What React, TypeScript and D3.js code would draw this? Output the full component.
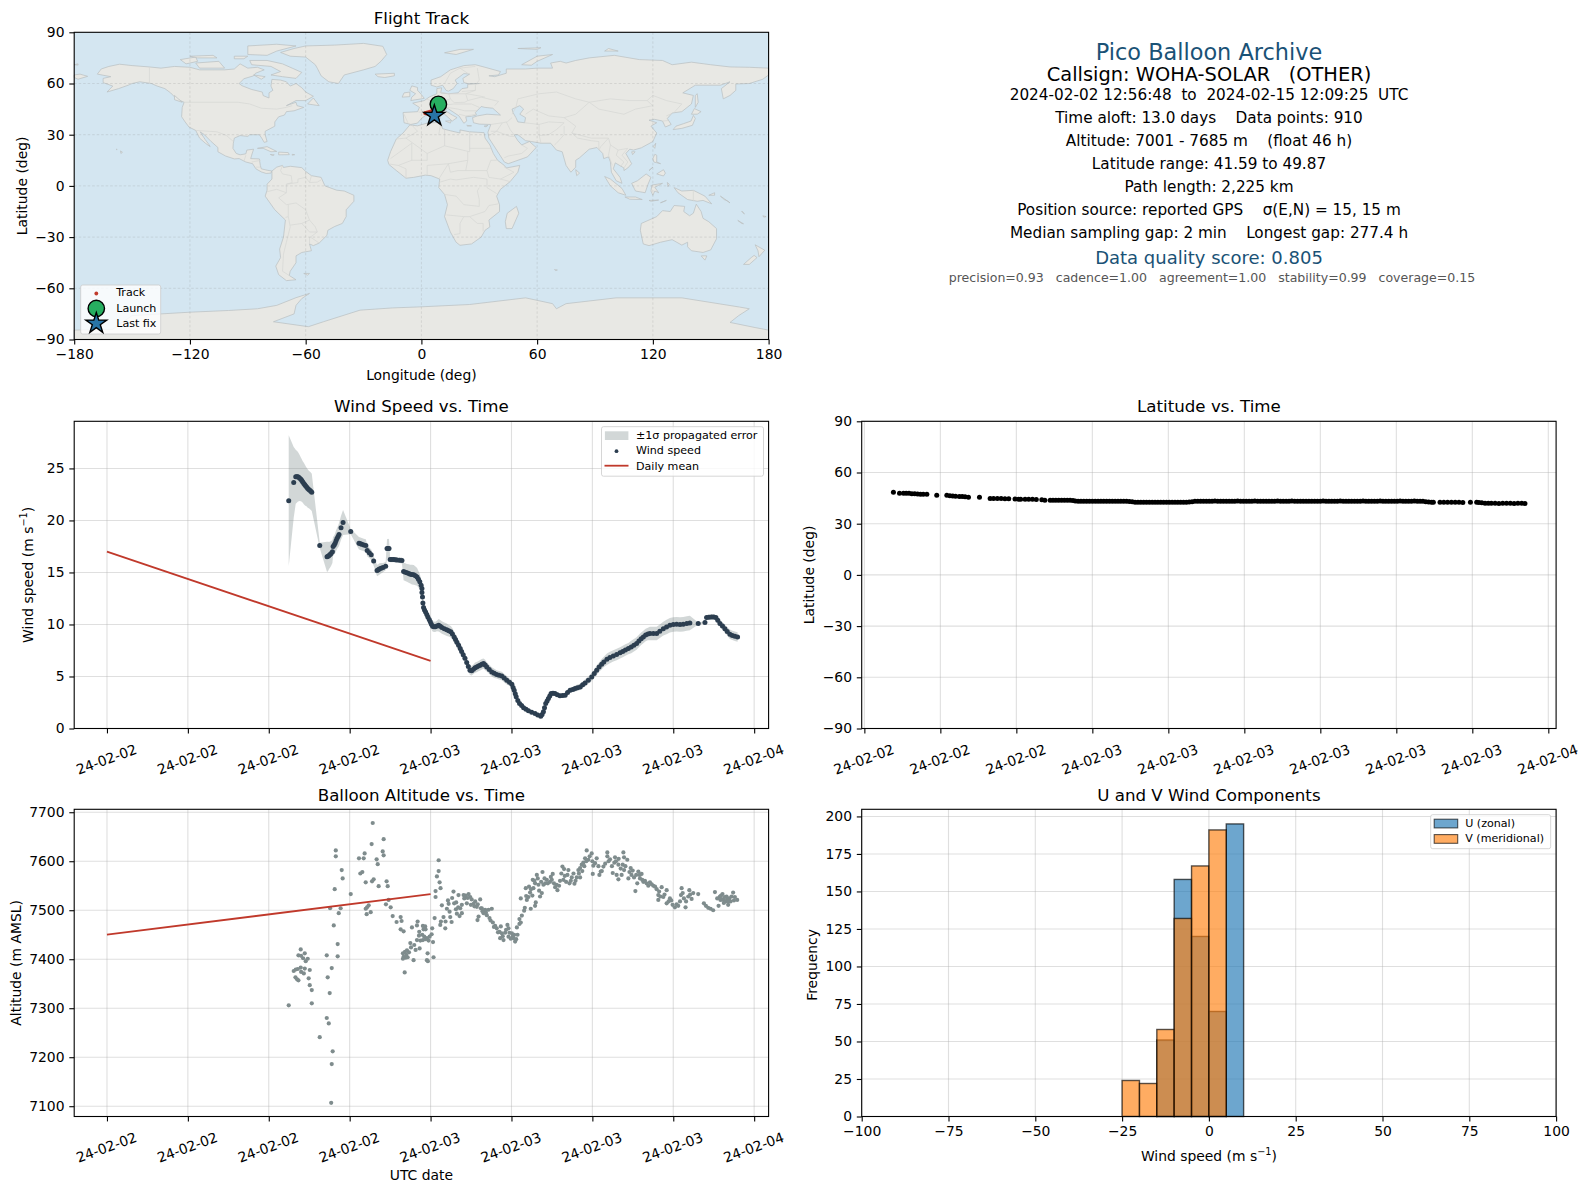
import React, { useEffect, useRef } from 'react';
import * as d3 from 'd3';

const FONT = '"DejaVu Sans", sans-serif';
const START = Date.UTC(2024, 1, 2);
const toDate = (h: number) => new Date(START + h * 3600e3);

// hours after 2024-02-02 00:00 UTC
const windHours = [
  13.48, 13.85, 14.0, 14.08, 14.15, 14.22, 14.3, 14.38, 14.45, 14.52,
  14.6, 14.67, 14.74, 14.82, 14.89, 14.97, 15.04, 15.12, 15.19, 15.78,
  16.32, 16.4, 16.47, 16.55, 16.62, 16.72, 16.77, 16.85, 16.92, 16.99,
  17.06, 17.14, 17.21, 17.36, 17.51, 18.08, 18.69, 18.8, 18.9, 19.05,
  19.2, 19.3, 19.45, 19.6, 19.78, 20.03, 20.12, 20.2, 20.33, 20.47,
  20.67, 20.77, 20.85, 20.92, 21.0, 21.13, 21.26, 21.38, 21.5, 21.7,
  21.88, 22.0, 22.12, 22.25, 22.38, 22.5, 22.62, 22.75, 22.88, 23.0,
  23.1, 23.2, 23.3, 23.36, 23.36, 23.4, 23.43, 23.48, 23.55, 23.63,
  23.72, 23.8, 23.9, 23.98, 24.06, 24.15, 24.25, 24.35, 24.47, 24.6,
  24.72, 24.84, 25.02, 25.2, 25.35, 25.5, 25.62, 25.75, 25.85, 25.95,
  26.08, 26.2, 26.3, 26.42, 26.55, 26.68, 26.8, 26.92, 27.05, 27.18,
  27.3, 27.42, 27.55, 27.68, 27.8, 27.93, 28.05, 28.17, 28.35, 28.54,
  28.72, 28.9, 29.08, 29.28, 29.46, 29.65, 29.85, 30.03, 30.12, 30.2,
  30.28, 30.35, 30.47, 30.6, 30.75, 30.9, 31.08, 31.26, 31.5, 31.75,
  31.95, 32.17, 32.27, 32.37, 32.45, 32.54, 32.64, 32.74, 32.84, 32.94,
  33.08, 33.23, 33.4, 33.6, 33.8, 33.98, 34.16, 34.35, 34.55, 34.72,
  34.9, 35.1, 35.28, 35.46, 35.7, 35.95, 36.14, 36.32, 36.5, 36.69,
  36.85, 37.08, 37.3, 37.55, 37.8, 38.05, 38.25, 38.45, 38.67, 38.88,
  39.08, 39.28, 39.45, 39.62, 39.78, 39.95, 40.12, 40.27, 40.52, 40.77,
  41.0, 41.26, 41.5, 41.75, 42.0, 42.25, 42.5, 42.74, 43.0, 43.23,
  43.85, 44.35, 44.47, 44.65, 44.84, 45.0, 45.16, 45.3, 45.46, 45.65,
  45.83, 46.0, 46.2, 46.38, 46.57, 46.77,
];
const windSpeed = [
  21.9, 23.65, 24.2, 24.2, 24.2, 24.15, 24.06, 23.95, 23.84, 23.7,
  23.55, 23.42, 23.3, 23.18, 23.07, 22.98, 22.9, 22.8, 22.7, 17.6,
  16.5, 16.55, 16.63, 16.72, 16.82, 17.0, 17.5, 17.65, 17.8, 18.05,
  18.26, 18.45, 18.65, 19.3, 19.8, 18.93, 17.8, 17.75, 17.7, 17.65,
  17.6, 17.1, 16.9, 16.7, 16.1, 15.18, 15.25, 15.34, 15.4, 15.47,
  15.6, 17.3, 17.3, 17.3, 16.24, 16.24, 16.24, 16.22, 16.2, 16.17,
  16.15, 15.09, 15.03, 14.96, 14.9, 14.83, 14.8, 14.77, 14.68, 14.57,
  14.35, 14.1, 13.77, 13.45, 13.07, 12.65, 12.07, 11.63, 11.4, 11.2,
  10.97, 10.73, 10.48, 10.25, 10.03, 9.83, 9.78, 9.77, 9.86, 9.93,
  9.82, 9.7, 9.6, 9.5, 9.4, 9.3, 9.08, 8.8, 8.55, 8.3,
  8.0, 7.7, 7.4, 7.1, 6.75, 6.35, 5.95, 5.6, 5.55, 5.7,
  5.85, 5.9, 6.0, 6.08, 6.18, 6.24, 6.1, 5.92, 5.68, 5.44,
  5.3, 5.2, 5.12, 5.05, 4.85, 4.64, 4.45, 4.25, 3.95, 3.68,
  3.35, 3.04, 2.7, 2.4, 2.2, 2.0, 1.85, 1.7, 1.56, 1.43,
  1.3, 1.18, 1.35, 1.6, 2.0, 2.4, 2.65, 2.88, 3.12, 3.36,
  3.38, 3.36, 3.25, 3.16, 3.18, 3.2, 3.45, 3.68, 3.76, 3.84,
  3.92, 4.0, 4.2, 4.38, 4.65, 4.96, 5.28, 5.6, 5.9, 6.18,
  6.4, 6.65, 6.82, 6.98, 7.12, 7.27, 7.4, 7.55, 7.68, 7.84,
  8.0, 8.16, 8.4, 8.62, 8.8, 8.98, 9.08, 9.13, 9.13, 9.13,
  9.35, 9.6, 9.76, 9.93, 10.0, 10.02, 10.0, 10.02, 10.1, 10.15,
  10.09, 10.2, 10.66, 10.7, 10.73, 10.72, 10.66, 10.4, 10.09, 9.85,
  9.6, 9.33, 9.06, 8.95, 8.87, 8.8,
];
const windSigma = [
  6.3, 3.4, 2.6, 2.5, 2.4, 2.3, 2.2, 2.1, 2.05, 2.0,
  2.0, 1.95, 1.9, 1.85, 1.85, 1.8, 1.8, 1.8, 1.8, 0.25,
  1.45, 1.4, 1.3, 1.25, 1.2, 1.1, 0.9, 0.9, 0.95, 1.0,
  1.0, 1.05, 1.1, 1.15, 1.2, 0.25, 0.6, 0.6, 0.6, 0.6,
  0.6, 0.55, 0.5, 0.5, 0.45, 0.55, 0.55, 0.55, 0.5, 0.45,
  0.4, 0.9, 0.95, 0.9, 0.25, 0.25, 0.25, 0.25, 0.25, 0.25,
  0.3, 0.85, 0.85, 0.85, 0.9, 0.9, 0.95, 0.95, 0.9, 0.85,
  0.8, 0.75, 0.6, 0.6, 0.55, 0.55, 0.5, 0.5, 0.5, 0.5,
  0.5, 0.5, 0.5, 0.5, 0.5, 0.5, 0.5, 0.5, 0.5, 0.6,
  0.6, 0.6, 0.6, 0.6, 0.55, 0.55, 0.55, 0.5, 0.5, 0.5,
  0.5, 0.5, 0.45, 0.45, 0.45, 0.45, 0.45, 0.45, 0.45, 0.45,
  0.5, 0.5, 0.5, 0.5, 0.5, 0.5, 0.5, 0.45, 0.45, 0.45,
  0.45, 0.4, 0.4, 0.4, 0.4, 0.4, 0.35, 0.35, 0.3, 0.3,
  0.25, 0.2, 0.2, 0.2, 0.2, 0.15, 0.15, 0.15, 0.15, 0.15,
  0.15, 0.15, 0.15, 0.15, 0.15, 0.15, 0.2, 0.2, 0.2, 0.2,
  0.2, 0.2, 0.2, 0.2, 0.2, 0.2, 0.25, 0.25, 0.25, 0.3,
  0.3, 0.3, 0.3, 0.35, 0.35, 0.4, 0.4, 0.45, 0.45, 0.5,
  0.5, 0.55, 0.55, 0.55, 0.55, 0.55, 0.55, 0.55, 0.55, 0.6,
  0.6, 0.6, 0.6, 0.6, 0.6, 0.6, 0.6, 0.65, 0.65, 0.65,
  0.65, 0.65, 0.7, 0.7, 0.7, 0.7, 0.7, 0.7, 0.7, 0.7,
  0.1, 0.1, 0.25, 0.25, 0.25, 0.25, 0.25, 0.3, 0.35, 0.35,
  0.4, 0.4, 0.45, 0.45, 0.45, 0.45,
];

const meanHours = [0, 24];
const meanSpeed = [17.0, 6.5];
const meanAlt = [7450, 7533];

const altHours = [
  13.48, 13.85, 14.0, 14.15, 14.37, 14.67, 15.04, 13.98, 14.1, 14.2,
  14.37, 14.2, 14.4, 14.67, 14.55, 14.89, 14.74, 14.4, 14.6, 14.96,
  15.04, 15.19, 15.19, 15.78, 16.3, 16.45, 16.74, 16.67, 16.52, 16.37,
  16.67, 16.3, 17.11, 17.11, 16.82, 17.19, 17.33, 16.55, 16.89, 17.48,
  17.41, 16.97, 16.97, 18.08, 18.69, 19.04, 19.11, 19.63, 19.71, 20.52,
  20.45, 20.52, 20.0, 20.08, 18.94, 18.79, 19.19, 19.66, 19.78, 20.15,
  20.74, 20.82, 19.19, 19.29, 19.41, 19.26, 19.56, 20.89, 20.69, 21.04,
  21.19, 21.48, 21.78, 21.85, 21.78, 22.0, 22.08, 22.74, 21.95, 22.1,
  22.25, 22.4, 22.0, 22.15, 22.3, 21.95, 22.2, 22.5, 22.55, 22.79,
  22.89, 23.19, 23.78, 23.73, 23.8, 24.22, 24.18, 23.85, 22.62, 22.99,
  23.04, 23.16, 23.43, 23.6, 23.48, 23.63, 23.14, 23.38, 23.53, 23.73,
  23.93, 24.08, 22.99, 23.24, 23.43, 23.63, 24.12, 24.3, 24.37, 24.37,
  24.74, 24.67, 24.47, 24.6, 24.6, 24.84, 25.7, 26.07, 24.77, 24.72,
  25.09, 25.11, 24.96, 25.46, 25.56, 25.41, 25.21, 25.34, 25.29, 25.75,
  25.88, 25.95, 26.15, 26.32, 26.2, 26.32, 26.5, 26.45, 26.82, 26.94,
  26.69, 26.99, 27.31, 27.68, 27.19, 27.43, 27.48, 27.56, 27.73, 27.8,
  28.05, 28.3, 28.54, 27.93, 28.17, 28.37, 28.62, 28.79, 28.91, 29.21,
  29.7, 29.78, 29.11, 29.28, 29.53, 29.16, 29.41, 29.78, 30.03, 30.2,
  30.45, 30.27, 30.15, 29.85, 30.4, 30.59, 30.69, 30.59, 30.77, 30.94,
  30.99, 31.43, 31.75, 31.8, 30.69, 31.09, 31.26, 31.06, 31.14, 31.38,
  31.63, 32.12, 32.25, 31.58, 31.88, 32.3, 31.75, 32.0, 32.37, 32.62,
  32.5, 32.86, 33.06, 32.99, 33.24, 33.41, 33.53, 33.6, 33.85, 33.78,
  34.22, 33.9, 34.05, 34.3, 34.67, 34.47, 34.84, 35.09, 34.96, 35.21,
  35.09, 35.58, 35.95, 35.46, 35.7, 35.33, 36.07, 36.32, 36.03, 36.52,
  36.62, 36.82, 37.11, 37.11, 37.31, 37.68, 38.3, 38.35, 38.59, 37.63,
  37.93, 38.25, 37.51, 37.8, 37.93, 38.17, 38.35, 38.67, 38.84, 39.09,
  38.99, 39.41, 39.65, 39.53, 39.33, 39.19, 39.78, 40.02, 40.27, 40.52,
  40.77, 41.14, 41.51, 40.89, 41.26, 40.89, 41.51, 41.75, 41.95, 42.12,
  42.37, 42.62, 42.57, 42.79, 42.5, 42.91, 43.19, 43.11, 43.36, 43.48,
  43.85, 44.27, 44.42, 44.59, 44.77, 44.96, 45.36, 45.09, 45.26, 45.46,
  45.65, 45.7, 45.9, 46.07, 46.15, 46.32, 46.44, 46.57, 46.74, 45.83,
  45.5, 46.0, 25.6, 25.9, 26.05, 26.6, 26.75, 27.05, 27.25, 27.5,
  27.85, 28.1, 28.45, 28.7, 29.0, 29.35, 29.6, 29.95, 30.1, 30.35,
  31.3, 31.45, 31.55, 31.7, 31.95, 32.05, 32.2, 32.45, 32.7, 32.92,
  33.15, 33.35, 33.7, 33.95, 34.15, 34.4, 34.6, 34.75, 35.0, 35.25,
  35.4, 35.55, 35.8, 36.0, 36.2, 36.45, 36.7, 36.95, 37.2, 37.45,
  37.75, 37.95, 38.1, 38.45, 38.75, 38.9, 39.25, 39.5, 39.7, 39.9,
  40.15, 40.4, 40.65, 40.95, 41.05, 41.35, 41.65, 41.85, 42.25, 42.7,
  42.95, 43.25, 45.55, 45.75, 45.95, 46.25, 46.5, 46.1, 45.6, 16.63,
];
const altMeters = [
  7306, 7376, 7379, 7380, 7383, 7381, 7378, 7363, 7359, 7357,
  7420, 7408, 7407, 7412, 7402, 7401, 7396, 7374, 7371, 7361,
  7347, 7337, 7310, 7241, 7280, 7269, 7212, 7186, 7331, 7363,
  7382, 7408, 7431, 7406, 7469, 7494, 7504, 7504, 7543, 7565,
  7582, 7610, 7622, 7533, 7606, 7606, 7616, 7635, 7678, 7645,
  7620, 7612, 7604, 7594, 7578, 7575, 7557, 7559, 7563, 7549,
  7559, 7549, 7503, 7506, 7510, 7492, 7496, 7521, 7512, 7506,
  7488, 7476, 7486, 7478, 7461, 7457, 7373, 7398, 7412, 7415,
  7418, 7414, 7405, 7403, 7404, 7401, 7409, 7433, 7424, 7429,
  7419, 7422, 7412, 7398, 7396, 7404, 7435, 7438, 7465, 7469,
  7477, 7456, 7468, 7467, 7461, 7461, 7448, 7450, 7446, 7443,
  7446, 7451, 7439, 7438, 7439, 7441, 7463, 7484, 7527, 7539,
  7545, 7557, 7569, 7580, 7602, 7510, 7538, 7531, 7477, 7470,
  7463, 7477, 7486, 7486, 7476, 7497, 7503, 7513, 7520, 7514,
  7502, 7493, 7488, 7494, 7504, 7511, 7524, 7531, 7533, 7527,
  7514, 7511, 7518, 7522, 7513, 7507, 7480, 7487, 7504, 7504,
  7501, 7501, 7503, 7494, 7490, 7484, 7475, 7468, 7463, 7467,
  7470, 7463, 7456, 7453, 7454, 7443, 7439, 7446, 7453, 7450,
  7450, 7436, 7443, 7454, 7465, 7472, 7475, 7482, 7489, 7499,
  7505, 7503, 7509, 7516, 7524, 7529, 7527, 7545, 7521, 7536,
  7545, 7528, 7535, 7562, 7572, 7578, 7555, 7552, 7552, 7562,
  7555, 7558, 7574, 7562, 7547, 7541, 7550, 7560, 7562, 7589,
  7582, 7584, 7558, 7555, 7554, 7567, 7567, 7567, 7582, 7593,
  7586, 7622, 7616, 7606, 7603, 7597, 7591, 7606, 7574, 7572,
  7579, 7589, 7618, 7610, 7604, 7608, 7618, 7608, 7603, 7597,
  7593, 7593, 7576, 7572, 7563, 7572, 7582, 7565, 7586, 7567,
  7581, 7579, 7574, 7565, 7555, 7539, 7558, 7555, 7557, 7550,
  7543, 7547, 7541, 7531, 7527, 7521, 7514, 7524, 7511, 7506,
  7509, 7545, 7531, 7524, 7518, 7506, 7541, 7528, 7523, 7535,
  7533, 7514, 7509, 7505, 7503, 7500, 7509, 7537, 7524, 7528,
  7533, 7522, 7518, 7511, 7524, 7528, 7536, 7527, 7521, 7527,
  7521, 7522, 7525, 7516, 7506, 7530, 7525, 7522, 7508, 7512,
  7498, 7496, 7479, 7466, 7455, 7447, 7460, 7442, 7447, 7441,
  7548, 7543, 7530, 7560, 7565, 7540, 7558, 7565, 7555, 7568,
  7555, 7552, 7575, 7570, 7572, 7560, 7575, 7560, 7575, 7580,
  7590, 7600, 7610, 7600, 7596, 7590, 7580, 7595, 7600, 7590,
  7600, 7605, 7585, 7590, 7578, 7572, 7572, 7572, 7562, 7560,
  7550, 7553, 7548, 7538, 7528, 7532, 7518, 7520, 7512, 7535,
  7518, 7532, 7530, 7515, 7528, 7518, 7520, 7518, 7522, 7107,
];

const latHours = [
  13.53, 13.85, 14.06, 14.2, 14.35, 14.5, 14.65, 14.8, 14.95, 15.1,
  15.29, 15.81, 16.34, 16.5, 16.65, 16.8, 17.0, 17.15, 17.3, 17.48,
  18.06, 18.62, 18.8, 19.0, 19.2, 19.4, 19.6, 19.93, 20.11, 20.23,
  20.46, 20.65, 20.85, 21.05, 21.34, 21.5,
  21.78, 21.93, 22.08, 22.23, 22.38, 22.53, 22.68, 22.83, 22.98, 23.1,
  23.25, 23.4, 23.55, 23.7, 23.85, 24.0, 24.15, 24.3, 24.45, 24.6,
  24.75, 24.9, 25.05, 25.2, 25.35, 25.5, 25.65, 25.8, 25.95, 26.1,
  26.25, 26.4, 26.55, 26.7, 26.85, 27.0, 27.15, 27.3, 27.45, 27.6,
  27.75, 27.9, 28.05, 28.2, 28.35, 28.5, 28.65, 28.8, 28.95, 29.1,
  29.25, 29.4, 29.55, 29.7, 29.85, 30.0, 30.15, 30.3, 30.45, 30.6,
  30.75, 30.9, 31.05, 31.2, 31.35, 31.5, 31.65, 31.8, 31.95, 32.1,
  32.25, 32.4, 32.55, 32.7, 32.85, 33.0, 33.15, 33.3, 33.45, 33.6,
  33.75, 33.9, 34.05, 34.2, 34.35, 34.5, 34.65, 34.8, 34.95, 35.1,
  35.25, 35.4, 35.55, 35.7, 35.85, 36.0, 36.15, 36.3, 36.45, 36.6,
  36.75, 36.9, 37.05, 37.2, 37.35, 37.5, 37.65, 37.8, 37.95, 38.1,
  38.25, 38.4, 38.55, 38.7, 38.85, 39.0, 39.15, 39.3, 39.45, 39.6,
  39.75, 39.9, 40.05, 40.2, 40.35, 40.5, 40.65, 40.8, 40.95, 41.1,
  41.25, 41.4, 41.55, 41.7, 41.85, 41.95,
  42.3, 42.5, 42.7, 42.9, 43.1, 43.3, 43.5, 43.9, 44.23, 44.35,
  44.5, 44.67, 44.84, 45.0, 45.2, 45.4, 45.6, 45.8, 46.0, 46.2,
  46.4, 46.6, 46.77,
];
const latDeg = [
  48.4, 47.9, 47.9, 47.8, 47.8, 47.6, 47.5, 47.4, 47.3, 47.3,
  47.2, 46.7, 46.7, 46.4, 46.2, 46.1, 46.0, 45.9, 45.8, 45.5,
  45.5, 44.8, 44.8, 44.7, 44.7, 44.6, 44.6, 44.5, 44.3, 44.3,
  44.3, 44.3, 44.3, 44.2, 44.1, 43.8,
  43.8, 43.8, 43.8, 43.7, 43.8, 43.8, 43.7, 43.7, 43.6, 43.3,
  43.2, 43.2, 43.2, 43.1, 43.2, 43.2, 43.2, 43.1, 43.2, 43.2,
  43.2, 43.1, 43.2, 43.2, 43.1, 43.2, 43.1, 43.1, 43.0, 42.9,
  42.6, 42.6, 42.6, 42.5, 42.6, 42.6, 42.6, 42.5, 42.6, 42.6,
  42.6, 42.5, 42.6, 42.6, 42.6, 42.6, 42.5, 42.6, 42.6, 42.7,
  42.9, 43.2, 43.2, 43.2, 43.1, 43.2, 43.2, 43.2, 43.3, 43.2,
  43.2, 43.2, 43.2, 43.1, 43.2, 43.2, 43.3, 43.2, 43.2, 43.2,
  43.2, 43.2, 43.3, 43.2, 43.2, 43.2, 43.1, 43.2, 43.2, 43.2,
  43.3, 43.2, 43.2, 43.2, 43.2, 43.3, 43.2, 43.2, 43.2, 43.2,
  43.2, 43.1, 43.2, 43.2, 43.2, 43.2, 43.3, 43.2, 43.2, 43.2,
  43.2, 43.2, 43.3, 43.2, 43.2, 43.1, 43.2, 43.2, 43.2, 43.2,
  43.3, 43.2, 43.2, 43.2, 43.2, 43.2, 43.3, 43.2, 43.2, 43.2,
  43.2, 43.2, 43.2, 43.3, 43.2, 43.2, 43.2, 43.2, 43.3, 43.2,
  43.2, 43.1, 42.9, 42.7, 42.6, 42.6,
  42.6, 42.6, 42.5, 42.6, 42.6, 42.5, 42.4, 42.5, 42.5, 42.4,
  42.3, 42.0, 42.0, 42.0, 42.0, 41.9, 42.0, 42.0, 42.0, 41.9,
  42.0, 42.0, 41.9,
];

const binEdges = [-25, -20, -15, -10, -5, 0, 5, 10];
const uCounts = [0, 0, 51, 158, 120, 70, 195];
const vCounts = [24, 22, 58, 132, 167, 191, 0];

const trackLon = [8.8, 8.2, 7.5, 6.8, 6, 5, 4, 3, 2.2, 2, 3, 4, 5, 6, 6.7];
const trackLat = [47.8, 47.2, 46.5, 45.5, 44.5, 43.8, 43.3, 43, 42.8, 42.6, 42.3, 42, 41.8, 41.4, 41.1];
const launch: [number, number] = [8.8, 47.8];
const lastFix: [number, number] = [6.7, 41.1];

const land: [number, number][][] = [
  // North + Central America
  [[-168,65.5],[-166,68.5],[-162,70],[-156.5,71.3],[-150,70.5],[-141,69.7],[-135,69],[-128,70],[-120,69.5],[-115,68],[-108,68],[-102,68],[-97,68.5],[-94,71.5],[-90,69],[-85,69.5],[-81.5,68],[-86,66],[-87,64.5],[-92,62.8],[-94.5,60],[-93,58.7],[-88,56.5],[-82.5,55],[-82,52.9],[-79,51.5],[-79,54.5],[-77,56],[-78,58.5],[-77.5,62.4],[-73,62],[-70,61],[-68,58.5],[-65,60],[-62,57.5],[-60,55],[-56,52.5],[-60,50],[-65,50],[-70,47],[-65,49],[-64.5,47],[-61,46],[-66,44],[-70,43.5],[-71,41.5],[-74,40.5],[-76,37.5],[-76,35],[-81,32],[-81,30],[-80,26],[-81.5,25.5],[-82.8,28],[-84,30],[-89,30],[-90,29],[-94,29.5],[-97,28],[-97.5,25],[-97.7,22],[-96,19],[-94,18.2],[-91,18.8],[-90.5,21],[-87,21.5],[-88,18],[-88.5,16],[-84,15.8],[-83.5,12],[-83,10],[-80,9.2],[-77.5,8.7],[-78,7.5],[-80.5,7.3],[-83,8.2],[-85.8,10],[-87.5,13],[-91,14],[-94.5,16],[-97,15.8],[-101.5,17.5],[-105.5,20],[-105.5,22.5],[-109,26],[-112.5,30],[-114.7,31.7],[-112,27],[-110,24],[-109.5,23],[-112,25],[-115,28],[-117,32.5],[-120.5,34.5],[-122.5,37.5],[-124.3,40.5],[-124,46],[-123,49],[-127,51],[-130,54.5],[-133,57],[-137,58.5],[-140,60],[-146,61],[-150,60],[-152,59],[-157,57],[-163,55],[-160,58.5],[-165,60.5],[-165,63],[-161,64]],
  // Greenland
  [[-73,78.2],[-66,80.5],[-60,82],[-45,82.5],[-30,83.5],[-20,81.8],[-18,77],[-21,73],[-24,70],[-30,68],[-40,65],[-43,60],[-48,61],[-52,64.5],[-54,69],[-55,71],[-60,75.5],[-68,76]],
  // Canadian Arctic
  [[-80,73.5],[-72,71.5],[-67,69],[-62,66.5],[-65,63],[-72,64],[-78,65],[-73,67],[-78,70],[-88,71],[-89,73.5]],
  [[-117,72],[-105,73],[-102,69],[-115,69]],
  [[-125,74],[-117,75.5],[-116,73],[-122,71.5]],
  [[-90,77],[-80,76.5],[-75,79],[-65,82],[-75,83],[-90,82]],
  [[-120,76],[-108,76.5],[-106,75],[-116,75]],
  [[-97,76],[-90,76],[-92,74.5],[-97,74.5]],
  [[-87,65],[-81,64],[-83,62.5]],
  [[-59,48],[-56,51.5],[-53,47]],
  [[-128,53],[-124,49],[-128,50.5]],
  // Caribbean, Hawaii, Aleutians
  [[-85,22],[-80,23],[-75,20.2],[-78,20],[-82,22]],
  [[-74,19.8],[-69,19.5],[-68.5,18.3],[-74,18.2]],
  [[-78.3,18.4],[-76.3,18.2],[-77,17.8]],
  [[-67,18.5],[-65.7,18.3],[-67,18]],
  [[-156,20.5],[-155,19.7],[-155.8,19]],
  [[-158.2,21.6],[-157.7,21.3],[-158,21.2]],
  [[-180,65],[-177,65.5],[-173,64.2],[-178,62.5],[-180,63.5]],
  [[-180,71],[-178,71.5],[-178,70.8]],
  // South America
  [[-77.5,8.7],[-75,11],[-72,12],[-71.5,10.8],[-68,11.5],[-62,10.7],[-60,8.5],[-57,6],[-52,5],[-50,0],[-44,-2.5],[-40,-3],[-35,-5.5],[-35,-9],[-39,-14],[-39,-18],[-41,-22],[-45,-23.8],[-48.5,-26],[-49,-29],[-53,-33.5],[-56,-35],[-58,-34],[-57,-38],[-62,-39],[-65,-41],[-65,-45],[-68,-50],[-68.5,-52.5],[-65,-55],[-70,-55.5],[-74,-52],[-75.5,-47],[-73,-42],[-73.5,-37],[-71.5,-30],[-70.5,-20],[-76,-14],[-81,-6],[-80,-2.5],[-80,1],[-77.5,4],[-77.5,7.5]],
  [[-61,-51.3],[-58,-51.3],[-59,-52.3]],
  // Africa
  [[-6,35.7],[-2,35.2],[3,36.8],[10,37.3],[11,33.5],[15,32.3],[20,31],[20,32.8],[25,31.7],[32.5,31.2],[33,28],[35.5,24],[37.3,19],[39.5,15],[43,12],[44,10.5],[51,12],[50,8],[46,2.5],[41,-2],[39,-6],[40.5,-11],[40.5,-15],[35,-20],[35.5,-24],[33,-26],[31,-30],[26,-34],[20,-34.8],[18,-33],[15,-27],[12,-18],[13.5,-11],[12,-5],[9,-1],[9.5,4],[5,6],[2,6.3],[-4,5],[-8,4.5],[-13,9],[-16.8,12.5],[-17.5,15],[-16,20],[-13,27.5],[-9.5,31]],
  [[49.3,-12],[50.5,-16],[47,-25],[44,-25],[43.5,-21],[44.5,-16]],
  // Eurasia
  [[-9,37],[-9.5,43],[-2,43.5],[-1,46],[-4.5,48.5],[1.5,50],[4,52],[8,54],[8,57],[10.5,57.5],[10,54.5],[14,54],[19,54.5],[21,57],[24,57.5],[24,59.5],[30,60],[24,60],[22,60.5],[21.5,63],[25,65.5],[22,65.8],[17.5,62],[18.5,60],[16.5,57],[14,55.5],[12.8,56],[11,59],[8,58],[5,59],[5,62],[10,64],[15,68],[22,70.5],[28,71],[33,69.5],[41,67],[40,65],[35,64.5],[38,64],[44,66],[44,68.5],[54,68.5],[60,69],[68,69],[67,72],[72,73],[75,72],[80,73.5],[87,75],[100,76.5],[113,74],[125,73.5],[130,71],[140,72.5],[150,71],[160,69.7],[170,69.5],[180,69],[180,65],[177,62.5],[170,60],[163,59.7],[163,56],[160,53],[156.5,51],[155.5,57],[160,61],[155,59],[142,59],[135.5,54.5],[141,53],[140,48],[135,43.5],[130,42.7],[127.5,39.5],[129.5,36],[126.5,34.5],[125,38],[121,39],[118,38.5],[122,37],[119,35],[122,31],[120,26],[114,22.3],[110,21],[108,21.5],[106,19],[109,13],[107,10.5],[105,9],[105,10.5],[100.5,13.5],[99.5,10],[103,5],[104,1.5],[101,3],[98.5,8],[98,14],[97,17],[94.5,16],[94,19],[91,22.5],[87,21.5],[82,16.5],[80,15],[80,11],[77.5,8],[75,12],[73,20],[70,21],[67,25],[62,25],[57,26],[54,26.5],[50,30],[48,30],[50,26.5],[52,24],[56,26],[59.5,22.5],[55,17],[45,13],[43,14],[39,21],[35,28],[34.5,31.5],[36,36],[30,36.2],[27,37],[26.5,40],[29,41],[34,42],[41,41.5],[38,44.5],[37,45.5],[33,46],[31,46.5],[28,43],[28.5,41.5],[26,40.8],[23,40.5],[23.5,38],[22,36.7],[19.5,41],[13.5,45.5],[12.5,44],[16,41.5],[18.5,40],[16,38],[12,42],[8.5,44.3],[3.5,43.2],[3,42],[0,39.5],[-2,36.8],[-5.5,36]],
  // European islands
  [[-5.5,50],[1.5,51.3],[0,53.5],[-2,56],[-2,57.7],[-5,58.6],[-6,56],[-3,54],[-5,52]],
  [[-10,52],[-6,52.3],[-6,55],[-9,54.5]],
  [[-24,65.5],[-14,66],[-14,64.5],[-19,63.5],[-22.5,64]],
  [[12.5,38],[15.5,38.2],[15,36.8]],
  [[8.3,41],[9.7,41],[9.5,39],[8.5,39]],
  [[23.5,35.5],[26,35.2],[24,35]],
  [[32.5,35],[34.5,35.5],[33.5,34.6]],
  [[52,71],[57,70.7],[60,73],[68,77],[60,76]],
  [[12,78],[20,80],[27,80],[18,77]],
  [[50,80.5],[62,81],[60,80]],
  [[102,79],[97,80.5],[95,79]],
  // Asia-Pacific islands
  [[142,46],[143.5,49],[143,54],[142,53]],
  [[130.5,33],[135,33.7],[140.5,35.5],[142,39.5],[141,41.3],[139.8,38],[136,36.5],[132,35]],
  [[140,42],[141.5,45.3],[145,43.5],[143,42]],
  [[120.2,23],[121.5,25],[121,22]],
  [[109,20],[110.8,20],[109.5,18.3]],
  [[120,16],[121,18.5],[122,18],[122,14],[124,13],[120.5,14]],
  [[122,7],[125.5,9.5],[126.5,7.5],[125.5,5.8]],
  [[118,9],[120,11],[119,10]],
  [[95,5.5],[98,4],[104,-1.5],[106,-5.5],[102,-4],[98,0]],
  [[105.5,-6.5],[111,-6.5],[114.5,-8],[108,-7.8]],
  [[109,1.5],[112,3],[116.5,7],[119,5],[117.5,1],[116,-4],[111,-3]],
  [[119.5,0.5],[125,1.5],[121,-0.8],[123,-4],[121,-3],[120,-5.5],[119,-3]],
  [[127.5,2],[128.5,1],[127.8,-0.5]],
  [[118,-8.5],[123,-8.3],[119,-9]],
  [[124,-10],[127,-8.5],[124,-9.8]],
  [[131,-1],[135,-3],[141,-2.6],[147,-6],[150.5,-10.5],[146,-8.5],[143,-9],[138,-8],[133,-4]],
  [[149,-5.5],[152,-4],[152,-5.5]],
  [[155,-6],[157,-8],[159,-9],[160,-10],[157,-7.5]],
  [[166,-15],[167.5,-16.5],[166.5,-15]],
  [[164,-20.2],[167,-22.2],[166,-22]],
  [[177,-17.5],[178.7,-18],[177.5,-18.3]],
  [[80,9.5],[82,7.5],[80.5,6]],
  // Oceania
  [[114,-22],[113.5,-26],[115,-34],[118,-35],[124,-33],[130,-31.5],[135,-34.7],[138,-33],[138,-35.7],[140,-38],[146,-39],[150,-37.5],[153,-31],[153,-25],[149,-21],[146,-19],[145,-15],[142.5,-10.7],[141,-16],[139,-17.5],[136,-15],[136.5,-12],[131,-11.5],[129,-15],[125,-14.5],[122,-18],[118,-20]],
  [[145,-41],[148,-41],[147,-43.5]],
  [[173,-34.5],[178,-37.7],[175,-41.5],[174.5,-38]],
  [[172.5,-40.7],[174,-42],[170,-46],[167,-46],[171,-42]],
  [[69,-49],[70.5,-49.3],[69.5,-49.6]],
  // Antarctica
  [[-180,-84.5],[-160,-84],[-150,-76],[-120,-74],[-100,-73],[-85,-72],[-75,-70],[-65,-65.5],[-58,-63],[-62,-66],[-65,-70],[-66,-75],[-76.7,-79.6],[-58.6,-82.5],[-50.8,-79.6],[-31.8,-72.8],[-15,-71.5],[-0.8,-70.9],[25,-69.5],[54,-65.6],[68,-69],[70,-72],[75,-69],[101,-65.6],[135,-65.6],[165,-71],[170,-72],[164.5,-76],[160,-80],[173,-83],[180,-84.5],[180,-90],[-180,-90]],
];

// Caspian, painted over the land
const lakes: [number, number][][] = [
  [[47,45],[51,47],[53,45],[51,42],[54,40],[53.5,37],[50,37.5],[49,40],[47.5,43]],
];

const borders: [number, number][][] = [
  [[-141,60],[-141,69.7]],
  [[-123,49],[-95,49],[-89,48],[-83,45.5],[-75,45],[-70,46],[-67,47]],
  [[-117,32.5],[-106,31.7],[-101,29.5],[-97.5,26]],
  [[-92,14.5],[-91,18]],
  [[-88,14],[-83.3,15]],
  [[-85.8,11],[-83.7,11]],
  [[-72,12],[-73,9],[-72,7],[-67.5,6],[-67,2],[-70,1],[-70,-4]],
  [[-60,8],[-60,5],[-64,4],[-64,2],[-70,1]],
  [[-57,6],[-58,2]],
  [[-52,3.5],[-54,2.2],[-58,2],[-60,5]],
  [[-70,-4],[-74,-7],[-70,-11],[-65,-10],[-60,-14],[-58,-20],[-55,-24],[-54,-27],[-57.5,-30],[-53,-33.5]],
  [[-80,-3.4],[-75,-2],[-70,-4]],
  [[-69,-11],[-69,-18],[-68,-24],[-70,-33],[-71.5,-40],[-72,-50],[-68.5,-52.5]],
  [[-69,-18],[-70.5,-18.5]],
  [[-62,-22],[-58,-20]],
  [[-68,-23],[-62,-22],[-58,-27],[-54,-27]],
  [[-58,-30],[-58,-34]],
  [[-5,35.7],[-2,32],[-8,28],[-13,27.5]],
  [[-8,28],[3,19],[12,23.5],[25,20],[25,31.7]],
  [[9,30],[10,37]],
  [[12,33],[12,23.5]],
  [[25,22],[36,22]],
  [[-16,16],[-5,25],[-5,15],[-12,12],[-16.5,12.8]],
  [[-12,12],[-8,10],[-8,4.5]],
  [[-5,15],[3,15],[3,19]],
  [[3,12],[3,6.3]],
  [[3,12],[14,13],[24,15],[24,20]],
  [[14,13],[9,4]],
  [[24,15],[23,9],[34,9],[36,15],[39,15]],
  [[14,13],[15,8],[19,9],[23,9]],
  [[34,9],[35,5],[41,4],[46,2.5]],
  [[41,4],[48,8],[43,11]],
  [[15,4],[9,2]],
  [[15,4],[18,3.5],[27,5],[34,4]],
  [[34,4],[34,-1],[39,-4.5]],
  [[12,-5],[18,-6],[22,-11],[30,-12],[30,-8],[29,-3],[30,-1]],
  [[13,-17],[22,-18],[25,-18],[33,-15],[35,-11.5],[40,-10.5]],
  [[22,-18],[20,-22],[20,-28],[17,-28.5]],
  [[25,-18],[29,-22],[32,-22],[32,-26.5]],
  [[-9,42],[-7,37]],
  [[-1.5,43.3],[3,42.5]],
  [[2.5,51],[7,49],[8,47.5],[6,46],[7.5,44]],
  [[7,53.5],[7,50],[8,48]],
  [[9,55],[14.2,54],[15,51],[12,50],[13.5,47.5],[8,47.5]],
  [[14.2,54],[23,54],[24,50],[22.5,49],[17,48.8],[15,51]],
  [[13.5,47.5],[17,48],[22,48],[26,48],[30,46]],
  [[13.5,46],[19,45],[22.5,44],[29,44]],
  [[19.5,42],[23,41],[26,41.5],[28,42]],
  [[23,54],[28,56],[28,59]],
  [[21,55.3],[28,56]],
  [[24,50],[31,52],[40,49.5],[38,47]],
  [[23.5,54],[31,52.5],[33,52]],
  [[28,59],[30,62],[29,69]],
  [[12,60],[15,66],[20,69],[28,70]],
  [[24,66],[20,69]],
  [[47,42],[49,46],[50,51],[61,54],[70,55],[80,51],[87,49],[98,51],[108,50],[117,50],[120,53],[127,50],[135,48],[131,43]],
  [[87,49],[92,45],[105,42],[111,45],[120,47],[117,50]],
  [[80,42],[74,40],[80,35],[78,31],[88,28],[97,28],[98,24],[102,21],[107,22]],
  [[80,42],[87,49]],
  [[54,42],[58,45],[66,41],[74,40]],
  [[53.5,37],[61,36],[66,37.5],[74,37]],
  [[61,36],[61,30],[62,25]],
  [[74,37],[70,33],[66,30],[61,29.5]],
  [[74,35],[74,30],[70,25],[69,24]],
  [[78,31],[81,28],[88,26.5],[92,26],[92,22]],
  [[97,28],[93,23],[92,21]],
  [[98,24],[97,18],[99,12]],
  [[102,21],[101,18],[105,14],[103,11]],
  [[107,22],[104,18],[107,14],[105,10.5]],
  [[44,37.5],[46,33],[48,30]],
  [[36,36],[42,37],[44.5,37.5],[47,40]],
  [[39,32],[46,29],[48,29]],
  [[36,32],[39,32],[42,37]],
  [[35,29.5],[39,32]],
  [[52,24],[55,22],[52,19],[45,17.5],[43,16.5]],
  [[127,41],[130,42.5]],
  [[125,38],[128,38.3]],
  [[141,-2.6],[141,-9]],
];

const timeFmt = d3.utcFormat('%y-%m-%d');

const drawFrame = (g: any, w: number, h: number) =>
  g.append('rect').attr('width', w).attr('height', h).attr('fill', 'none').attr('stroke', '#000').attr('stroke-width', 1.1);

const styleAxis = (g: any) => {
  g.select('.domain').remove();
  g.selectAll('.tick line').attr('stroke', '#000').attr('stroke-width', 1.1);
  g.selectAll('.tick text').attr('fill', '#000').attr('font-family', FONT).attr('font-size', 13.9);
};

const addText = (parent: any, x: number, y: number, txt: string, size: number, color = '#000', anchor = 'middle') =>
  parent
    .append('text')
    .attr('x', x)
    .attr('y', y)
    .attr('font-family', FONT)
    .attr('font-size', size)
    .attr('fill', color)
    .attr('text-anchor', anchor)
    .attr('dominant-baseline', 'central')
    .text(txt);

const App = () => {
  const svgRef = useRef<SVGSVGElement>(null);

  useEffect(() => {
    const svg = d3.select(svgRef.current);
    svg.selectAll('*').remove();

    const left = 74.2;
    const rightCol = 861.7;
    const pw = 694.4;
    const ph = 307.2;
    const rows = [32.3, 421.3, 809.3];

    const panel = (x: number, y: number) => svg.append('g').attr('transform', `translate(${x},${y})`);

    const grid = (g: any, xs: number[], ys: number[]) => {
      g.selectAll('.gx').data(xs).join('line').attr('class', 'gx').attr('x1', (d: number) => d).attr('x2', (d: number) => d)
        .attr('y1', 0).attr('y2', ph).attr('stroke', '#b0b0b0').attr('stroke-opacity', 0.4).attr('stroke-width', 1.1);
      g.selectAll('.gy').data(ys).join('line').attr('class', 'gy').attr('y1', (d: number) => d).attr('y2', (d: number) => d)
        .attr('x1', 0).attr('x2', pw).attr('stroke', '#b0b0b0').attr('stroke-opacity', 0.4).attr('stroke-width', 1.1);
    };

    const timeXAxis = (g: any, x: any, ticks: Date[]) => {
      const ax = g.append('g').attr('transform', `translate(0,${ph})`).call(d3.axisBottom(x).tickValues(ticks).tickFormat(timeFmt as any).tickSize(4.9).tickPadding(0));
      styleAxis(ax);
      ax.selectAll('.tick text').attr('x', -1).attr('y', 31).attr('dy', '0.35em').attr('text-anchor', 'middle').attr('transform', 'rotate(-20 -1 31)');
    };

    // ---- map
    const mapG = panel(left, rows[0]);
    const lonX = d3.scaleLinear().domain([-180, 180]).range([0, pw]);
    const latY = d3.scaleLinear().domain([-90, 90]).range([ph, 0]);
    const lonTicks = d3.range(-180, 181, 60);
    const latTicks = d3.range(-90, 91, 30);
    const shape = d3.line<[number, number]>().x((d) => lonX(d[0])).y((d) => latY(d[1])).curve(d3.curveLinearClosed);
    const open = d3.line<[number, number]>().x((d) => lonX(d[0])).y((d) => latY(d[1]));
    mapG.append('rect').attr('width', pw).attr('height', ph).attr('fill', '#d4e6f1');
    mapG.selectAll('.land').data(land).join('path').attr('class', 'land').attr('d', (d: any) => shape(d))
      .attr('fill', '#e8e8e4').attr('stroke', '#b9bec0').attr('stroke-width', 0.7).attr('stroke-linejoin', 'round');
    mapG.selectAll('.lake').data(lakes).join('path').attr('class', 'lake').attr('d', (d: any) => shape(d))
      .attr('fill', '#d4e6f1').attr('stroke', '#b9bec0').attr('stroke-width', 0.7);
    mapG.selectAll('.border').data(borders).join('path').attr('class', 'border').attr('d', (d: any) => open(d))
      .attr('fill', 'none').attr('stroke', '#d6d7d4').attr('stroke-width', 0.7);
    mapG.selectAll('.mgx').data(lonTicks.slice(1, -1)).join('line').attr('class', 'mgx').attr('x1', (d: number) => lonX(d)).attr('x2', (d: number) => lonX(d))
      .attr('y1', 0).attr('y2', ph).attr('stroke', '#888').attr('stroke-opacity', 0.3).attr('stroke-width', 0.7).attr('stroke-dasharray', '2.5,2');
    mapG.selectAll('.mgy').data(latTicks.slice(1, -1)).join('line').attr('class', 'mgy').attr('y1', (d: number) => latY(d)).attr('y2', (d: number) => latY(d))
      .attr('x1', 0).attr('x2', pw).attr('stroke', '#888').attr('stroke-opacity', 0.3).attr('stroke-width', 0.7).attr('stroke-dasharray', '2.5,2');
    mapG.selectAll('.trk').data(trackLon).join('circle').attr('class', 'trk').attr('cx', (d: number) => lonX(d))
      .attr('cy', (_: number, i: number) => latY(trackLat[i])).attr('r', 1.9).attr('fill', '#c0392b');
    mapG.append('circle').attr('cx', lonX(launch[0])).attr('cy', latY(launch[1])).attr('r', 8.2).attr('fill', '#27ae60').attr('stroke', '#000').attr('stroke-width', 1.4);
    const star = d3.symbol().type(d3.symbolStar).size(135);
    mapG.append('path').attr('d', star()).attr('transform', `translate(${lonX(lastFix[0])},${latY(lastFix[1])})`).attr('fill', '#2874a6').attr('stroke', '#000').attr('stroke-width', 1.4);
    // map legend
    const ml = mapG.append('g').attr('transform', 'translate(6.5,252.7)');
    ml.append('rect').attr('width', 80).attr('height', 49).attr('rx', 2).attr('fill', '#fff').attr('fill-opacity', 0.8).attr('stroke', '#ccc').attr('stroke-width', 0.8);
    ml.append('circle').attr('cx', 15.6).attr('cy', 8.5).attr('r', 1.9).attr('fill', '#c0392b');
    ml.append('circle').attr('cx', 15.6).attr('cy', 23.5).attr('r', 8.2).attr('fill', '#27ae60').attr('stroke', '#000').attr('stroke-width', 1.4);
    ml.append('path').attr('d', star()).attr('transform', 'translate(15.6,38.5)').attr('fill', '#2874a6').attr('stroke', '#000').attr('stroke-width', 1.4);
    ['Track', 'Launch', 'Last fix'].forEach((t, i) => addText(ml, 35.5, 7.5 + i * 15.5, t, 11.1, '#000', 'start'));
    const mx = mapG.append('g').attr('transform', `translate(0,${ph})`).call(d3.axisBottom(lonX).tickValues(lonTicks).tickSize(4.9).tickPadding(4.8).tickFormat(d3.format('d') as any));
    styleAxis(mx);
    const my = mapG.append('g').call(d3.axisLeft(latY).tickValues(latTicks).tickSize(4.9).tickPadding(4.8).tickFormat(d3.format('d') as any));
    styleAxis(my);
    drawFrame(mapG, pw, ph);

    // ---- info text
    const info = svg.append('g');
    const cx = 1209;
    addText(info, cx, 51.5, 'Pico Balloon Archive', 22.4, '#1a5276');
    addText(info, cx, 74, 'Callsign: WOHA-SOLAR   (OTHER)', 19.4).style('white-space', 'pre');
    const infoLines = [
      '2024-02-02 12:56:48  to  2024-02-15 12:09:25  UTC',
      'Time aloft: 13.0 days    Data points: 910',
      'Altitude: 7001 - 7685 m    (float 46 h)',
      'Latitude range: 41.59 to 49.87',
      'Path length: 2,225 km',
      'Position source: reported GPS    σ(E,N) = 15, 15 m',
      'Median sampling gap: 2 min    Longest gap: 277.4 h',
    ];
    const infoY = [94.5, 117.8, 140.8, 164, 187, 210, 233.3];
    infoLines.forEach((t, i) => addText(info, cx, infoY[i], t, 15.25).style('white-space', 'pre'));
    addText(info, cx, 257, 'Data quality score: 0.805', 18, '#1a5276');
    addText(info, cx + 3, 277.5, 'precision=0.93   cadence=1.00   agreement=1.00   stability=0.99   coverage=0.15', 12.55, '#555').style('white-space', 'pre');

    // ---- wind speed
    const windG = panel(left, rows[1]);
    const tx = d3.scaleUtc().domain([toDate(-2.43), toDate(49.07)]).range([0, pw]);
    const windY = d3.scaleLinear().domain([0, 29.53]).range([ph, 0]);
    const tTicks = d3.utcHour.range(toDate(0), toDate(49), 6);
    grid(windG, tTicks.map((d) => tx(d)), d3.range(0, 26, 5).map((d) => windY(d)));
    const band = d3.area<number>().x((h) => tx(toDate(h))).y0((_, i) => windY(windSpeed[i] - windSigma[i])).y1((_, i) => windY(windSpeed[i] + windSigma[i]));
    windG.append('path').attr('d', band(windHours)).attr('fill', '#7f8c8d').attr('fill-opacity', 0.35);
    windG.selectAll('.wp').data(windHours).join('circle').attr('class', 'wp').attr('cx', (h: number) => tx(toDate(h)))
      .attr('cy', (_: number, i: number) => windY(windSpeed[i])).attr('r', 2.5).attr('fill', '#2c3e50');
    const meanLine = d3.line<number>().x((h) => tx(toDate(h))).y((_, i) => windY(meanSpeed[i]));
    windG.append('path').attr('d', meanLine(meanHours)).attr('fill', 'none').attr('stroke', '#c0392b').attr('stroke-width', 1.8);
    timeXAxis(windG, tx, tTicks);
    styleAxis(windG.append('g').call(d3.axisLeft(windY).tickValues(d3.range(0, 26, 5)).tickSize(4.9).tickPadding(4.8)));
    drawFrame(windG, pw, ph);
    const wl = windG.append('g').attr('transform', 'translate(527.3,5.4)');
    wl.append('rect').attr('width', 162).attr('height', 49.5).attr('rx', 2).attr('fill', '#fff').attr('fill-opacity', 0.8).attr('stroke', '#ccc').attr('stroke-width', 0.8);
    wl.append('rect').attr('x', 3.4).attr('y', 4.6).attr('width', 23.5).attr('height', 8.7).attr('fill', '#7f8c8d').attr('fill-opacity', 0.35);
    wl.append('circle').attr('cx', 15).attr('cy', 24.5).attr('r', 1.9).attr('fill', '#2c3e50');
    wl.append('line').attr('x1', 3).attr('x2', 27).attr('y1', 39).attr('y2', 39).attr('stroke', '#c0392b').attr('stroke-width', 1.8);
    ['±1σ propagated error', 'Wind speed', 'Daily mean'].forEach((t, i) => addText(wl, 34.5, 8.5 + i * 15.6, t, 11.1, '#000', 'start'));

    // ---- latitude
    const latG = panel(rightCol, rows[1]);
    const tx2 = d3.scaleUtc().domain([toDate(11.86), toDate(48.41)]).range([0, pw]);
    const latYY = d3.scaleLinear().domain([-90, 90]).range([ph, 0]);
    const tTicks2 = d3.utcHour.range(toDate(12), toDate(49), 4);
    grid(latG, tTicks2.map((d) => tx2(d)), latTicks.map((d) => latYY(d)));
    latG.selectAll('.lp').data(latHours).join('circle').attr('class', 'lp').attr('cx', (h: number) => tx2(toDate(h)))
      .attr('cy', (_: number, i: number) => latYY(latDeg[i])).attr('r', 2.5).attr('fill', '#000');
    timeXAxis(latG, tx2, tTicks2);
    styleAxis(latG.append('g').call(d3.axisLeft(latYY).tickValues(latTicks).tickSize(4.9).tickPadding(4.8).tickFormat(d3.format('d') as any)));
    drawFrame(latG, pw, ph);

    // ---- altitude
    const altG = panel(left, rows[2]);
    const altY = d3.scaleLinear().domain([7079, 7706]).range([ph, 0]);
    const altTicks = d3.range(7100, 7701, 100);
    grid(altG, tTicks.map((d) => tx(d)), altTicks.map((d) => altY(d)));
    altG.selectAll('.ap').data(altHours).join('circle').attr('class', 'ap').attr('cx', (h: number) => tx(toDate(h)))
      .attr('cy', (_: number, i: number) => altY(altMeters[i])).attr('r', 2.1).attr('fill', '#7f8c8d');
    const altLine = d3.line<number>().x((h) => tx(toDate(h))).y((_, i) => altY(meanAlt[i]));
    altG.append('path').attr('d', altLine(meanHours)).attr('fill', 'none').attr('stroke', '#c0392b').attr('stroke-width', 1.8);
    timeXAxis(altG, tx, tTicks);
    styleAxis(altG.append('g').call(d3.axisLeft(altY).tickValues(altTicks).tickSize(4.9).tickPadding(4.8).tickFormat(d3.format('d') as any)));
    drawFrame(altG, pw, ph);

    // ---- histogram
    const histG = panel(rightCol, rows[2]);
    const hx = d3.scaleLinear().domain([-100, 100]).range([0, pw]);
    const hy = d3.scaleLinear().domain([0, 204.75]).range([ph, 0]);
    const hxTicks = d3.range(-100, 101, 25);
    const hyTicks = d3.range(0, 201, 25);
    grid(histG, hxTicks.map((d) => hx(d)), hyTicks.map((d) => hy(d)));
    const drawBars = (counts: number[], color: string) => {
      histG.append('g').selectAll('rect').data(counts).join('rect')
        .attr('x', (_: number, i: number) => hx(binEdges[i]))
        .attr('width', (_: number, i: number) => hx(binEdges[i + 1]) - hx(binEdges[i]))
        .attr('y', (d: number) => hy(d))
        .attr('height', (d: number) => hy(0) - hy(d))
        .attr('fill', color).attr('fill-opacity', 0.65)
        .attr('stroke', '#000').attr('stroke-opacity', 0.65).attr('stroke-width', 1.4)
        .attr('display', (d: number) => (d > 0 ? null : 'none'));
    };
    drawBars(uCounts, '#1f77b4');
    drawBars(vCounts, '#ff7f0e');
    styleAxis(histG.append('g').attr('transform', `translate(0,${ph})`).call(d3.axisBottom(hx).tickValues(hxTicks).tickSize(4.9).tickPadding(4.8).tickFormat(d3.format('d') as any)));
    styleAxis(histG.append('g').call(d3.axisLeft(hy).tickValues(hyTicks).tickSize(4.9).tickPadding(4.8)));
    drawFrame(histG, pw, ph);
    const hl = histG.append('g').attr('transform', 'translate(569,5.4)');
    hl.append('rect').attr('width', 120).attr('height', 34).attr('rx', 2).attr('fill', '#fff').attr('fill-opacity', 0.8).attr('stroke', '#ccc').attr('stroke-width', 0.8);
    [['#1f77b4', 'U (zonal)'], ['#ff7f0e', 'V (meridional)']].forEach(([c, t], i) => {
      hl.append('rect').attr('x', 3.5).attr('y', 4.5 + i * 15.4).attr('width', 23.5).attr('height', 8.7).attr('fill', c).attr('fill-opacity', 0.65).attr('stroke', '#000').attr('stroke-opacity', 0.65).attr('stroke-width', 1.1);
      addText(hl, 34.5, 8.7 + i * 15.4, t, 11.1, '#000', 'start');
    });

    // ---- titles and axis labels
    const titles: [string, number, number][] = [
      ['Flight Track', left + pw / 2, 18],
      ['Wind Speed vs. Time', left + pw / 2, 406],
      ['Latitude vs. Time', rightCol + pw / 2, 406],
      ['Balloon Altitude vs. Time', left + pw / 2, 795],
      ['U and V Wind Components', rightCol + pw / 2, 795],
    ];
    titles.forEach(([t, x, y]) => addText(svg, x, y, t, 16.67));
    addText(svg, left + pw / 2, 375, 'Longitude (deg)', 13.9);
    addText(svg, left + pw / 2, 1175, 'UTC date', 13.9);
    const xMath = addText(svg, rightCol + pw / 2, 1156, 'Wind speed (m s', 13.9);
    xMath.append('tspan').attr('font-size', 9.7).attr('dy', -5).text('−1');
    xMath.append('tspan').attr('dy', 5).text(')');
    const ylab = (t: string, x: number, y: number) =>
      addText(svg, x, y, t, 13.9).attr('transform', `rotate(-90 ${x} ${y})`);
    ylab('Latitude (deg)', 22, rows[0] + ph / 2);
    const w = ylab('Wind speed (m s', 28, rows[1] + ph / 2);
    w.append('tspan').attr('font-size', 9.7).attr('dy', -5).text('−1');
    w.append('tspan').attr('dy', 5).text(')');
    ylab('Latitude (deg)', 809, rows[1] + ph / 2);
    ylab('Altitude (m AMSL)', 16, rows[2] + ph / 2);
    ylab('Frequency', 812.5, rows[2] + ph / 2 + 2);
  }, []);

  return <svg ref={svgRef} width={1588} height={1190} style={{ position: 'absolute', left: 0, top: 0, background: '#fff' }} />;
};

export default App;
